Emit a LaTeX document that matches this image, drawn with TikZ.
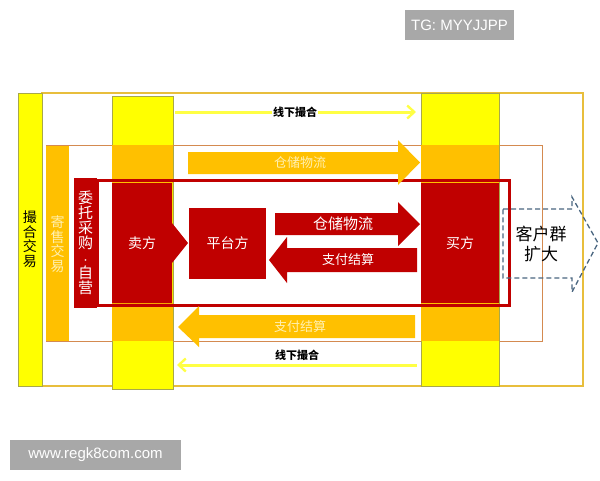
\documentclass[tikz,border=0pt]{standalone}
\usepackage{fontspec}
\setmainfont{Liberation Sans}
\newfontfamily\cjk{Noto Sans CJK SC}
\usetikzlibrary{arrows.meta}
\definecolor{ybright}{HTML}{FFFF00}
\definecolor{yline}{HTML}{FFFF44}
\definecolor{ogold}{HTML}{FFC000}
\definecolor{dred}{HTML}{C00000}
\definecolor{goldedge}{HTML}{E8BE3C}
\definecolor{brownedge}{HTML}{D48A50}
\definecolor{oliveedge}{HTML}{A8A84A}
\definecolor{paletext}{HTML}{FFF0B0}
\definecolor{dashblue}{HTML}{4A6680}
\definecolor{wmgray}{HTML}{A8A8A8}
\tikzset{
  ybox/.style={fill=ybright,draw=oliveedge,line width=0.6pt},
  obox/.style={fill=ogold,draw=none},
  rbox/.style={fill=dred,draw=none},
  thinarrow/.style={draw=yline,line width=3pt,-{Straight Barb[length=7pt,width=13pt,line width=2.4pt]}},
  wlabel/.style={text=white,font=\cjk\fontsize{14}{16}\selectfont},
  smlabel/.style={text=black,font=\cjk\bfseries\fontsize{11}{12}\selectfont,fill=white,inner sep=1pt},
  vtext/.style={align=center,font=\cjk\fontsize{14}{14.5}\selectfont,inner sep=0pt},
  wmark/.style={fill=wmgray,text=white,font=\fontsize{15}{17}\selectfont,inner sep=0pt}
}
\begin{document}
\begin{tikzpicture}[x=1pt,y=-1pt]
\useasboundingbox (0,0) rectangle (600,480);
% outer frames
\draw[goldedge,line width=1.2pt] (42,93) rectangle (583,386);
\draw[brownedge,line width=1pt] (46,145) rectangle (542,341);
% columns
\path[ybox] (112,96) rectangle (173,389);
\path[ybox] (421,93) rectangle (499,386);
\path[obox] (112.3,145) rectangle (172.7,183);
\path[obox] (112.3,303) rectangle (172.7,341);
\path[obox] (421.3,145) rectangle (498.7,183);
\path[obox] (421.3,303) rectangle (498.7,341);
\draw[brownedge,line width=1pt] (173,145) -- (421,145) (173,341) -- (421,341);
% inner red frame
\draw[dred,line width=3pt] (97,180.5) rectangle (509,305);
% side bars
\path[ybox] (18,93) rectangle (42,386);
\path[obox] (46,146) rectangle (69,341);
\path[rbox] (74,178) rectangle (97,308);
% seller / buyer / platform
\path[rbox] (112,183) -- (172,183) -- (172,223) -- (188,243) -- (172,263) -- (172,303) -- (112,303) -- cycle;
\path[rbox] (421,183) rectangle (499,303);
\path[rbox] (189,208) rectangle (266,279);
% red arrows
\path[rbox] (275,213) -- (398,213) -- (398,202) -- (420,224) -- (398,246) -- (398,235) -- (275,235) -- cycle;
\path[rbox] (417,248) -- (287,248) -- (287,237) -- (269,260) -- (287,283) -- (287,272) -- (417,272) -- cycle;
% orange arrows
\path[obox] (188,152) -- (398,152) -- (398,140) -- (420,162.5) -- (398,185) -- (398,174) -- (188,174) -- cycle;
\path[obox] (415,315) -- (199,315) -- (199,306) -- (178,327) -- (199,347) -- (199,338) -- (415,338) -- cycle;
% thin yellow arrows
\coordinate (t1) at (175,112);
\coordinate (t2) at (416,112);
\coordinate (b1) at (417,365);
\coordinate (b2) at (177,365);
\draw[thinarrow] (t1) -- (t2);
\draw[thinarrow] (b1) -- (b2);
\node[smlabel] (lt) at (295,112) {线下撮合};
\node[smlabel] (lb) at (297,355) {线下撮合};
% dashed arrow
\draw[dashblue,line width=1.3pt,dash pattern=on 5pt off 3pt,line join=miter]
  (503,209) -- (572,209) -- (572,197) -- (598,243) -- (572,292) -- (572,278) -- (503,278) -- cycle;
\node[font=\cjk\fontsize{17}{20}\selectfont,align=center,inner sep=0pt] (kh) at (541,244) {客户群\\扩大};
% texts
\node[vtext,text=black] (cuohe) at (30,239) {撮\\合\\交\\易};
\node[vtext,text=paletext] (jishou) at (57.5,244) {寄\\售\\交\\易};
\node[align=center,inner sep=0pt,text=white,font=\cjk\fontsize{15}{15}\selectfont] (weituo) at (85.5,243)
  {委\\托\\采\\购\\{\fontsize{8}{6}\selectfont ·}\\自\\营};
\node[wlabel] (seller) at (142,243) {卖方};
\node[wlabel] (platform) at (227.5,243) {平台方};
\node[wlabel] (buyer) at (460,243) {买方};
\node[wlabel,font=\cjk\fontsize{15}{16}\selectfont] (r1) at (343,224) {仓储物流};
\node[wlabel,font=\cjk\fontsize{13}{14}\selectfont] (r2) at (348,260) {支付结算};
\node[text=paletext,font=\cjk\fontsize{13}{14}\selectfont] (o1) at (300,163) {仓储物流};
\node[text=paletext,font=\cjk\fontsize{13}{14}\selectfont] (o2) at (300,327) {支付结算};
% watermarks
\node[wmark,minimum width=109pt,minimum height=30pt] (wm1) at (459.5,25) {TG: MYYJJPP};
\node[wmark,minimum width=171pt,minimum height=30pt] (wm2) at (95.5,455) {www.regk8com.com};
\end{tikzpicture}
\end{document}
